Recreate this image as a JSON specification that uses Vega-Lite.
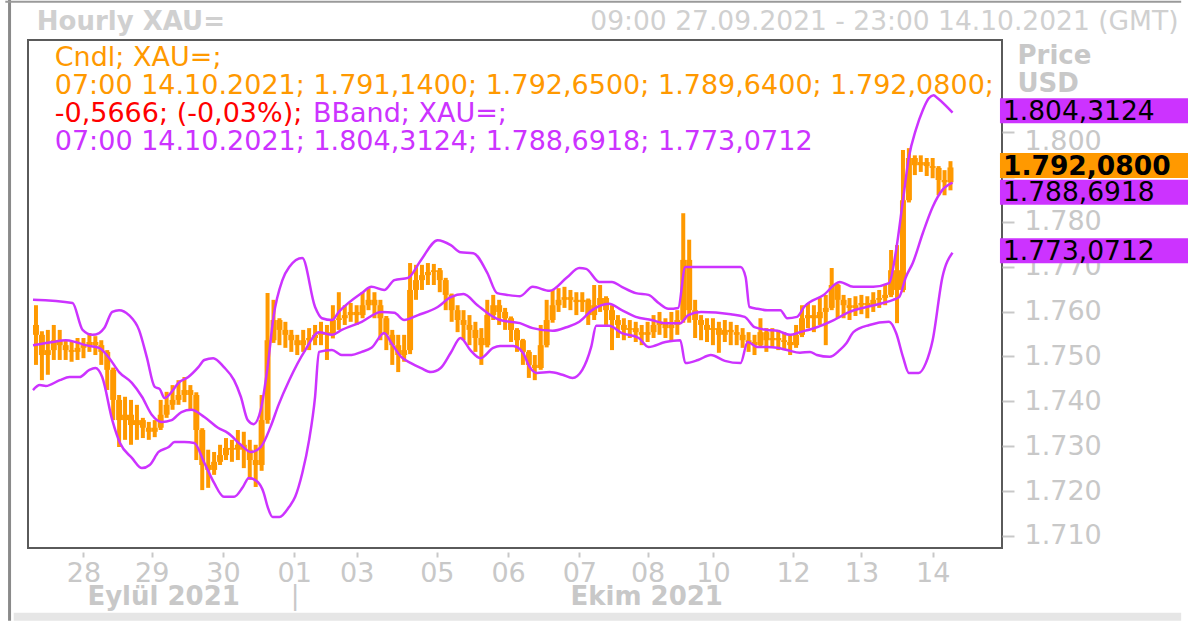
{
"$schema":"https://vega.github.io/schema/vega-lite/v6.json",
"width":974,"height":508,
"autosize":{"type":"none"},
"padding":{"left":28,"top":40,"right":186,"bottom":73},
"background":"white",
"config":{"font":"DejaVu Sans","view":{"stroke":"#5a5a5a","strokeWidth":2},"axis":{"grid":false,"domain":false}},
"datasets":{
"candles":[
{"t":1,"o":1757.0,"h":1761.4,"l":1748.1,"c":1754.8},{"t":3,"o":1754.8,"h":1755.6,"l":1744.7,"c":1750.3},{"t":5,"o":1750.3,"h":1755.9,"l":1745.9,"c":1751.4},{"t":7,"o":1751.4,"h":1757.0,"l":1749.2,"c":1753.6},{"t":9,"o":1753.6,"h":1755.9,"l":1749.2,"c":1752.5},{"t":11,"o":1752.5,"h":1753.6,"l":1749.2,"c":1751.4},{"t":13,"o":1751.4,"h":1753.2,"l":1748.8,"c":1751.0},{"t":15,"o":1751.0,"h":1754.1,"l":1749.2,"c":1751.9},{"t":17,"o":1751.9,"h":1754.1,"l":1749.6,"c":1752.5},{"t":19,"o":1752.5,"h":1755.2,"l":1751.0,"c":1753.2},
{"t":21,"o":1753.2,"h":1754.5,"l":1750.3,"c":1752.5},{"t":23,"o":1752.5,"h":1753.6,"l":1748.1,"c":1751.0},{"t":25,"o":1751.0,"h":1751.4,"l":1742.5,"c":1747.0},{"t":27,"o":1747.0,"h":1747.5,"l":1735.8,"c":1740.3},{"t":29,"o":1740.3,"h":1741.4,"l":1729.8,"c":1735.8},{"t":31,"o":1735.8,"h":1741.0,"l":1731.4,"c":1737.0},{"t":33,"o":1737.0,"h":1740.3,"l":1730.3,"c":1734.7},{"t":35,"o":1734.7,"h":1739.2,"l":1731.4,"c":1735.8},{"t":37,"o":1735.8,"h":1736.3,"l":1731.8,"c":1734.1},{"t":39,"o":1734.1,"h":1735.4,"l":1731.4,"c":1733.2},
{"t":41,"o":1733.2,"h":1735.8,"l":1732.0,"c":1734.1},{"t":43,"o":1734.1,"h":1740.3,"l":1733.6,"c":1737.0},{"t":45,"o":1737.0,"h":1742.1,"l":1736.3,"c":1739.2},{"t":47,"o":1739.2,"h":1743.6,"l":1738.1,"c":1740.3},{"t":49,"o":1740.3,"h":1744.7,"l":1739.2,"c":1741.4},{"t":51,"o":1741.4,"h":1745.4,"l":1739.8,"c":1742.5},{"t":53,"o":1742.5,"h":1743.6,"l":1738.1,"c":1741.4},{"t":55,"o":1741.4,"h":1742.0,"l":1726.9,"c":1733.6},{"t":57,"o":1733.6,"h":1734.0,"l":1720.2,"c":1725.8},{"t":59,"o":1725.8,"h":1729.2,"l":1720.7,"c":1724.7},
{"t":61,"o":1724.7,"h":1728.7,"l":1723.6,"c":1726.5},{"t":63,"o":1726.5,"h":1730.3,"l":1725.8,"c":1728.0},{"t":65,"o":1728.0,"h":1731.8,"l":1726.9,"c":1729.6},{"t":67,"o":1729.6,"h":1731.4,"l":1726.5,"c":1729.2},{"t":69,"o":1729.2,"h":1733.6,"l":1726.9,"c":1730.3},{"t":71,"o":1730.3,"h":1733.2,"l":1725.1,"c":1729.2},{"t":73,"o":1729.2,"h":1731.4,"l":1722.5,"c":1726.9},{"t":75,"o":1726.9,"h":1730.3,"l":1720.9,"c":1725.8},{"t":77,"o":1725.8,"h":1741.4,"l":1724.5,"c":1735.8},{"t":79,"o":1735.8,"h":1764.1,"l":1735.0,"c":1753.6},
{"t":81,"o":1753.6,"h":1762.6,"l":1753.0,"c":1758.1},{"t":83,"o":1758.1,"h":1758.5,"l":1752.5,"c":1755.9},{"t":85,"o":1755.9,"h":1757.7,"l":1751.9,"c":1754.8},{"t":87,"o":1754.8,"h":1755.9,"l":1751.0,"c":1753.6},{"t":89,"o":1753.6,"h":1754.8,"l":1750.3,"c":1752.5},{"t":91,"o":1752.5,"h":1755.9,"l":1751.0,"c":1753.6},{"t":93,"o":1753.6,"h":1756.3,"l":1751.4,"c":1754.1},{"t":95,"o":1754.1,"h":1757.0,"l":1752.5,"c":1754.8},{"t":97,"o":1754.8,"h":1757.7,"l":1752.5,"c":1755.4},{"t":99,"o":1755.4,"h":1757.0,"l":1749.2,"c":1754.8},
{"t":101,"o":1754.8,"h":1761.4,"l":1754.0,"c":1758.1},{"t":103,"o":1758.1,"h":1764.3,"l":1755.9,"c":1758.5},{"t":105,"o":1758.5,"h":1761.4,"l":1757.0,"c":1759.2},{"t":107,"o":1759.2,"h":1761.9,"l":1757.7,"c":1759.9},{"t":109,"o":1759.9,"h":1761.4,"l":1757.0,"c":1759.2},{"t":111,"o":1759.2,"h":1764.3,"l":1758.5,"c":1761.4},{"t":113,"o":1761.4,"h":1765.2,"l":1760.3,"c":1762.6},{"t":115,"o":1762.6,"h":1764.3,"l":1758.5,"c":1761.4},{"t":117,"o":1761.4,"h":1762.6,"l":1753.6,"c":1758.5},{"t":119,"o":1758.5,"h":1759.0,"l":1751.4,"c":1754.8},
{"t":121,"o":1754.8,"h":1755.9,"l":1748.1,"c":1752.5},{"t":123,"o":1752.5,"h":1754.8,"l":1746.5,"c":1750.3},{"t":125,"o":1750.3,"h":1754.8,"l":1748.8,"c":1751.4},{"t":127,"o":1751.4,"h":1770.8,"l":1750.5,"c":1764.8},{"t":129,"o":1764.8,"h":1770.4,"l":1762.6,"c":1767.0},{"t":131,"o":1767.0,"h":1770.4,"l":1764.8,"c":1768.1},{"t":133,"o":1768.1,"h":1770.8,"l":1765.9,"c":1768.8},{"t":135,"o":1768.8,"h":1770.6,"l":1765.9,"c":1769.2},{"t":137,"o":1769.2,"h":1769.7,"l":1764.3,"c":1767.0},{"t":139,"o":1767.0,"h":1767.5,"l":1760.3,"c":1763.7},
{"t":141,"o":1763.7,"h":1764.0,"l":1757.7,"c":1760.3},{"t":143,"o":1760.3,"h":1761.4,"l":1755.4,"c":1758.1},{"t":145,"o":1758.1,"h":1760.3,"l":1753.6,"c":1757.0},{"t":147,"o":1757.0,"h":1759.2,"l":1752.5,"c":1755.9},{"t":149,"o":1755.9,"h":1757.7,"l":1751.0,"c":1754.1},{"t":151,"o":1754.1,"h":1756.3,"l":1748.1,"c":1752.5},{"t":153,"o":1752.5,"h":1762.6,"l":1752.0,"c":1759.2},{"t":155,"o":1759.2,"h":1763.7,"l":1758.1,"c":1761.4},{"t":157,"o":1761.4,"h":1762.6,"l":1757.0,"c":1759.9},{"t":159,"o":1759.9,"h":1760.8,"l":1755.9,"c":1758.5},
{"t":161,"o":1758.5,"h":1758.9,"l":1753.2,"c":1755.9},{"t":163,"o":1755.9,"h":1756.3,"l":1751.0,"c":1753.6},{"t":165,"o":1753.6,"h":1753.9,"l":1748.1,"c":1751.0},{"t":167,"o":1751.0,"h":1751.4,"l":1745.2,"c":1748.1},{"t":169,"o":1748.1,"h":1750.3,"l":1744.7,"c":1747.4},{"t":171,"o":1747.4,"h":1757.0,"l":1747.0,"c":1752.5},{"t":173,"o":1752.5,"h":1762.6,"l":1752.0,"c":1758.1},{"t":175,"o":1758.1,"h":1764.8,"l":1757.5,"c":1761.4},{"t":177,"o":1761.4,"h":1765.2,"l":1759.9,"c":1762.6},{"t":179,"o":1762.6,"h":1765.5,"l":1760.8,"c":1763.2},
{"t":181,"o":1763.2,"h":1764.8,"l":1760.3,"c":1762.6},{"t":183,"o":1762.6,"h":1764.3,"l":1759.2,"c":1762.1},{"t":185,"o":1762.1,"h":1764.3,"l":1759.9,"c":1762.6},{"t":187,"o":1762.6,"h":1762.9,"l":1757.0,"c":1759.2},{"t":189,"o":1759.2,"h":1765.9,"l":1758.1,"c":1761.4},{"t":191,"o":1761.4,"h":1765.9,"l":1759.9,"c":1763.0},{"t":193,"o":1763.0,"h":1763.4,"l":1757.0,"c":1760.3},{"t":195,"o":1760.3,"h":1761.4,"l":1751.4,"c":1758.1},{"t":197,"o":1758.1,"h":1759.2,"l":1754.1,"c":1757.0},{"t":199,"o":1757.0,"h":1758.5,"l":1753.6,"c":1755.9},
{"t":201,"o":1755.9,"h":1758.1,"l":1754.1,"c":1756.3},{"t":203,"o":1756.3,"h":1757.7,"l":1753.2,"c":1755.4},{"t":205,"o":1755.4,"h":1757.0,"l":1752.5,"c":1754.8},{"t":207,"o":1754.8,"h":1757.7,"l":1753.2,"c":1755.4},{"t":209,"o":1755.4,"h":1759.2,"l":1754.1,"c":1757.0},{"t":211,"o":1757.0,"h":1759.9,"l":1754.8,"c":1757.7},{"t":213,"o":1757.7,"h":1758.5,"l":1754.1,"c":1756.3},{"t":215,"o":1756.3,"h":1759.9,"l":1753.6,"c":1757.0},{"t":217,"o":1757.0,"h":1760.3,"l":1754.8,"c":1758.1},{"t":219,"o":1758.1,"h":1781.9,"l":1757.5,"c":1771.5},
{"t":221,"o":1771.5,"h":1776.0,"l":1757.5,"c":1760.3},{"t":223,"o":1760.3,"h":1762.6,"l":1754.1,"c":1758.1},{"t":225,"o":1758.1,"h":1759.2,"l":1753.6,"c":1757.0},{"t":227,"o":1757.0,"h":1758.5,"l":1753.2,"c":1755.9},{"t":229,"o":1755.9,"h":1758.5,"l":1752.5,"c":1756.3},{"t":231,"o":1756.3,"h":1757.7,"l":1750.8,"c":1754.8},{"t":233,"o":1754.8,"h":1758.1,"l":1753.2,"c":1755.9},{"t":235,"o":1755.9,"h":1757.7,"l":1752.5,"c":1755.4},{"t":237,"o":1755.4,"h":1757.0,"l":1752.5,"c":1754.8},{"t":239,"o":1754.8,"h":1756.3,"l":1751.9,"c":1753.6},
{"t":241,"o":1753.6,"h":1755.4,"l":1751.0,"c":1753.2},{"t":243,"o":1753.2,"h":1754.8,"l":1750.3,"c":1752.5},{"t":245,"o":1752.5,"h":1758.5,"l":1752.0,"c":1755.4},{"t":247,"o":1755.4,"h":1756.3,"l":1751.0,"c":1753.6},{"t":249,"o":1753.6,"h":1756.3,"l":1751.9,"c":1754.1},{"t":251,"o":1754.1,"h":1755.9,"l":1751.4,"c":1753.6},{"t":253,"o":1753.6,"h":1755.4,"l":1751.4,"c":1753.2},{"t":255,"o":1753.2,"h":1754.8,"l":1750.3,"c":1752.5},{"t":257,"o":1752.5,"h":1757.0,"l":1751.9,"c":1754.8},{"t":259,"o":1754.8,"h":1761.4,"l":1754.3,"c":1758.5},
{"t":261,"o":1758.5,"h":1761.9,"l":1756.3,"c":1759.2},{"t":263,"o":1759.2,"h":1761.4,"l":1755.4,"c":1758.5},{"t":265,"o":1758.5,"h":1763.0,"l":1757.0,"c":1759.9},{"t":267,"o":1759.9,"h":1763.7,"l":1752.5,"c":1760.8},{"t":269,"o":1760.8,"h":1769.7,"l":1760.3,"c":1765.9},{"t":271,"o":1765.9,"h":1766.2,"l":1758.5,"c":1762.6},{"t":273,"o":1762.6,"h":1763.7,"l":1758.5,"c":1761.4},{"t":275,"o":1761.4,"h":1763.0,"l":1758.1,"c":1760.8},{"t":277,"o":1760.8,"h":1763.4,"l":1759.0,"c":1761.4},{"t":279,"o":1761.4,"h":1763.7,"l":1759.4,"c":1761.9},
{"t":281,"o":1761.9,"h":1763.4,"l":1758.5,"c":1761.4},{"t":283,"o":1761.4,"h":1764.3,"l":1759.9,"c":1762.6},{"t":285,"o":1762.6,"h":1764.8,"l":1760.8,"c":1763.0},{"t":287,"o":1763.0,"h":1765.9,"l":1761.4,"c":1763.7},{"t":289,"o":1763.7,"h":1773.7,"l":1763.2,"c":1769.2},{"t":291,"o":1769.2,"h":1774.8,"l":1757.4,"c":1764.8},{"t":293,"o":1764.8,"h":1796.0,"l":1764.3,"c":1784.8},{"t":295,"o":1784.8,"h":1796.4,"l":1784.3,"c":1794.2},{"t":297,"o":1794.2,"h":1794.8,"l":1790.4,"c":1792.6},{"t":299,"o":1792.6,"h":1794.8,"l":1791.1,"c":1793.3},
{"t":301,"o":1793.3,"h":1794.2,"l":1790.2,"c":1792.4},{"t":303,"o":1792.4,"h":1794.2,"l":1789.7,"c":1792.0},{"t":305,"o":1792.0,"h":1792.4,"l":1785.9,"c":1789.3},{"t":307,"o":1789.3,"h":1791.5,"l":1785.9,"c":1788.8},{"t":309,"o":1788.8,"h":1793.5,"l":1787.0,"c":1792.1}
],
"bands":[
{"s":"U","t":0,"v":1762.6},{"s":"U","t":13.3,"v":1761.9},{"s":"U","t":16.7,"v":1755.9},{"s":"U","t":20,"v":1754.8},{"s":"U","t":22.3,"v":1755.2},{"s":"U","t":24,"v":1756.3},{"s":"U","t":26.7,"v":1759.9},{"s":"U","t":29,"v":1760.3},{"s":"U","t":32.3,"v":1759.2},{"s":"U","t":35.7,"v":1755.9},{"s":"U","t":38.3,"v":1749.9},{"s":"U","t":41,"v":1743.2},{"s":"U","t":42.7,"v":1742.7},{"s":"U","t":44.3,"v":1740.7},{"s":"U","t":46.7,"v":1742.1},{"s":"U","t":49,"v":1744.1},{"s":"U","t":52.3,"v":1745.4},{"s":"U","t":55.7,"v":1747.6},{"s":"U","t":57.7,"v":1749.2},{"s":"U","t":60.7,"v":1749.6},{"s":"U","t":64.3,"v":1747.6},{"s":"U","t":67.7,"v":1744.7},{"s":"U","t":70,"v":1741.0},{"s":"U","t":72.3,"v":1735.8},{"s":"U","t":74.3,"v":1734.9},{"s":"U","t":76.7,"v":1738.1},{"s":"U","t":79,"v":1747.6},{"s":"U","t":81,"v":1758.8},{"s":"U","t":84,"v":1767.0},{"s":"U","t":86.3,"v":1769.9},{"s":"U","t":90.7,"v":1771.9},{"s":"U","t":95,"v":1761.0},{"s":"U","t":97.3,"v":1758.5},{"s":"U","t":100.7,"v":1758.1},{"s":"U","t":103,"v":1759.9},{"s":"U","t":110.7,"v":1764.1},{"s":"U","t":114,"v":1765.5},{"s":"U","t":118.3,"v":1764.8},{"s":"U","t":121.7,"v":1767.0},{"s":"U","t":126.3,"v":1767.5},{"s":"U","t":130.7,"v":1771.5},{"s":"U","t":136.3,"v":1775.9},{"s":"U","t":140.7,"v":1774.8},{"s":"U","t":144,"v":1773.2},{"s":"U","t":148.3,"v":1773.0},{"s":"U","t":153,"v":1768.6},{"s":"U","t":156.3,"v":1764.1},{"s":"U","t":159.7,"v":1763.7},{"s":"U","t":164,"v":1763.4},{"s":"U","t":168.3,"v":1765.5},{"s":"U","t":174,"v":1764.6},{"s":"U","t":179.7,"v":1767.5},{"s":"U","t":184,"v":1769.7},{"s":"U","t":186.3,"v":1769.5},{"s":"U","t":190.7,"v":1766.6},{"s":"U","t":195,"v":1766.6},{"s":"U","t":198.3,"v":1765.5},{"s":"U","t":203,"v":1764.1},{"s":"U","t":207.3,"v":1763.7},{"s":"U","t":210.7,"v":1761.9},{"s":"U","t":214,"v":1760.6},{"s":"U","t":217.3,"v":1760.8},{"s":"U","t":219.7,"v":1769.9},{"s":"U","t":238.3,"v":1769.9},{"s":"U","t":240,"v":1767.7},{"s":"U","t":241.3,"v":1761.0},{"s":"U","t":244,"v":1760.6},{"s":"U","t":247.3,"v":1760.3},{"s":"U","t":251.7,"v":1760.3},{"s":"U","t":254,"v":1758.5},{"s":"U","t":257.3,"v":1758.8},{"s":"U","t":259.7,"v":1761.0},{"s":"U","t":266.3,"v":1763.7},{"s":"U","t":271.7,"v":1766.6},{"s":"U","t":276.3,"v":1765.5},{"s":"U","t":283,"v":1765.5},{"s":"U","t":288.3,"v":1766.3},{"s":"U","t":290.7,"v":1773.7},{"s":"U","t":293,"v":1784.8},{"s":"U","t":295,"v":1794.4},{"s":"U","t":297.3,"v":1800.4},{"s":"U","t":299.7,"v":1804.9},{"s":"U","t":301.7,"v":1807.5},{"s":"U","t":303.3,"v":1808.2},{"s":"U","t":304.7,"v":1807.5},{"s":"U","t":309.7,"v":1804.3},
{"s":"M","t":0,"v":1752.5},{"s":"M","t":6.7,"v":1753.2},{"s":"M","t":11,"v":1753.6},{"s":"M","t":14.3,"v":1753.2},{"s":"M","t":17.7,"v":1752.5},{"s":"M","t":22.3,"v":1751.9},{"s":"M","t":25.7,"v":1749.6},{"s":"M","t":29,"v":1746.5},{"s":"M","t":33.3,"v":1744.1},{"s":"M","t":36.7,"v":1741.0},{"s":"M","t":40,"v":1737.0},{"s":"M","t":43.3,"v":1735.4},{"s":"M","t":46.7,"v":1735.8},{"s":"M","t":50,"v":1737.6},{"s":"M","t":53.3,"v":1738.1},{"s":"M","t":57.7,"v":1736.5},{"s":"M","t":62.3,"v":1734.1},{"s":"M","t":65.7,"v":1732.9},{"s":"M","t":70,"v":1730.3},{"s":"M","t":73.3,"v":1728.7},{"s":"M","t":76.7,"v":1729.8},{"s":"M","t":80,"v":1734.3},{"s":"M","t":82.7,"v":1739.2},{"s":"M","t":86.3,"v":1744.7},{"s":"M","t":91.7,"v":1751.4},{"s":"M","t":96.3,"v":1755.4},{"s":"M","t":100.7,"v":1754.8},{"s":"M","t":104,"v":1755.9},{"s":"M","t":110.7,"v":1757.7},{"s":"M","t":117.3,"v":1759.9},{"s":"M","t":121.7,"v":1759.7},{"s":"M","t":125,"v":1758.1},{"s":"M","t":129.7,"v":1759.2},{"s":"M","t":136.3,"v":1761.0},{"s":"M","t":140.7,"v":1763.2},{"s":"M","t":145,"v":1763.9},{"s":"M","t":149.7,"v":1761.4},{"s":"M","t":155,"v":1758.8},{"s":"M","t":157.3,"v":1758.1},{"s":"M","t":164,"v":1757.4},{"s":"M","t":168.3,"v":1756.3},{"s":"M","t":175,"v":1755.7},{"s":"M","t":179.7,"v":1756.5},{"s":"M","t":184,"v":1757.7},{"s":"M","t":188.3,"v":1760.3},{"s":"M","t":194,"v":1761.7},{"s":"M","t":198.3,"v":1760.3},{"s":"M","t":203,"v":1758.8},{"s":"M","t":208.3,"v":1758.1},{"s":"M","t":213,"v":1757.4},{"s":"M","t":218,"v":1757.4},{"s":"M","t":220.7,"v":1759.2},{"s":"M","t":225,"v":1759.9},{"s":"M","t":235,"v":1759.4},{"s":"M","t":239.7,"v":1758.8},{"s":"M","t":243,"v":1756.5},{"s":"M","t":247.3,"v":1755.9},{"s":"M","t":250.7,"v":1755.7},{"s":"M","t":255,"v":1754.8},{"s":"M","t":258.3,"v":1755.4},{"s":"M","t":264,"v":1756.5},{"s":"M","t":269.7,"v":1758.1},{"s":"M","t":275,"v":1759.9},{"s":"M","t":280.7,"v":1761.0},{"s":"M","t":286.3,"v":1761.9},{"s":"M","t":289.7,"v":1762.6},{"s":"M","t":291.7,"v":1763.2},{"s":"M","t":294,"v":1767.7},{"s":"M","t":296.3,"v":1770.8},{"s":"M","t":299.7,"v":1777.5},{"s":"M","t":303,"v":1783.3},{"s":"M","t":306.3,"v":1787.1},{"s":"M","t":309.7,"v":1788.7},
{"s":"L","t":0,"v":1742.5},{"s":"L","t":2.3,"v":1743.6},{"s":"L","t":4.3,"v":1743.4},{"s":"L","t":9,"v":1744.7},{"s":"L","t":12.3,"v":1745.4},{"s":"L","t":15.7,"v":1745.4},{"s":"L","t":19,"v":1747.0},{"s":"L","t":21,"v":1747.4},{"s":"L","t":23.3,"v":1745.4},{"s":"L","t":26.7,"v":1735.8},{"s":"L","t":29.3,"v":1730.7},{"s":"L","t":33.3,"v":1727.4},{"s":"L","t":36.7,"v":1725.1},{"s":"L","t":39.3,"v":1725.8},{"s":"L","t":42.3,"v":1728.7},{"s":"L","t":45.7,"v":1729.8},{"s":"L","t":47.7,"v":1730.9},{"s":"L","t":51,"v":1730.9},{"s":"L","t":54.3,"v":1730.7},{"s":"L","t":57.7,"v":1726.3},{"s":"L","t":61,"v":1721.8},{"s":"L","t":64.3,"v":1718.7},{"s":"L","t":67.7,"v":1718.7},{"s":"L","t":70.7,"v":1720.9},{"s":"L","t":72.7,"v":1722.9},{"s":"L","t":75.7,"v":1722.0},{"s":"L","t":77.7,"v":1719.6},{"s":"L","t":79,"v":1716.5},{"s":"L","t":80.7,"v":1714.2},{"s":"L","t":83,"v":1714.2},{"s":"L","t":86.3,"v":1716.5},{"s":"L","t":88.3,"v":1718.7},{"s":"L","t":90.7,"v":1724.0},{"s":"L","t":93,"v":1731.4},{"s":"L","t":95,"v":1741.0},{"s":"L","t":96.3,"v":1751.0},{"s":"L","t":100.7,"v":1751.4},{"s":"L","t":104,"v":1750.3},{"s":"L","t":107.3,"v":1750.3},{"s":"L","t":110.7,"v":1751.0},{"s":"L","t":114,"v":1751.9},{"s":"L","t":118.3,"v":1755.2},{"s":"L","t":120.7,"v":1753.0},{"s":"L","t":124,"v":1749.9},{"s":"L","t":127.3,"v":1748.5},{"s":"L","t":130.7,"v":1747.4},{"s":"L","t":134,"v":1746.5},{"s":"L","t":137.3,"v":1747.4},{"s":"L","t":140.7,"v":1750.8},{"s":"L","t":144,"v":1754.1},{"s":"L","t":147.3,"v":1751.4},{"s":"L","t":150.7,"v":1749.6},{"s":"L","t":155,"v":1751.9},{"s":"L","t":157.3,"v":1752.3},{"s":"L","t":161.7,"v":1752.3},{"s":"L","t":165,"v":1750.8},{"s":"L","t":167.3,"v":1747.6},{"s":"L","t":169.7,"v":1746.3},{"s":"L","t":174,"v":1746.5},{"s":"L","t":178.3,"v":1745.9},{"s":"L","t":181.7,"v":1745.2},{"s":"L","t":185,"v":1747.0},{"s":"L","t":188,"v":1752.1},{"s":"L","t":189.7,"v":1756.8},{"s":"L","t":194,"v":1756.8},{"s":"L","t":198.3,"v":1755.2},{"s":"L","t":204,"v":1754.1},{"s":"L","t":207.3,"v":1752.1},{"s":"L","t":213,"v":1753.2},{"s":"L","t":218,"v":1753.6},{"s":"L","t":219.7,"v":1748.5},{"s":"L","t":224,"v":1749.2},{"s":"L","t":228.3,"v":1750.3},{"s":"L","t":233,"v":1749.0},{"s":"L","t":238.3,"v":1748.5},{"s":"L","t":240.7,"v":1753.2},{"s":"L","t":244,"v":1752.1},{"s":"L","t":247.3,"v":1752.1},{"s":"L","t":250.7,"v":1751.9},{"s":"L","t":254,"v":1751.4},{"s":"L","t":258.3,"v":1750.8},{"s":"L","t":261.7,"v":1751.0},{"s":"L","t":264,"v":1750.3},{"s":"L","t":268.3,"v":1749.9},{"s":"L","t":271.7,"v":1751.4},{"s":"L","t":274,"v":1753.0},{"s":"L","t":276.3,"v":1755.4},{"s":"L","t":281.7,"v":1757.0},{"s":"L","t":288.3,"v":1757.7},{"s":"L","t":290.7,"v":1755.2},{"s":"L","t":293,"v":1749.9},{"s":"L","t":295,"v":1746.3},{"s":"L","t":298.3,"v":1746.3},{"s":"L","t":300.7,"v":1748.5},{"s":"L","t":303,"v":1753.6},{"s":"L","t":306.3,"v":1767.7},{"s":"L","t":309.7,"v":1773.1}
],
"one":[{}]
},
"layer":[
{"data":{"name":"candles"},"mark":{"type":"rule","color":"#FF9900","strokeWidth":4},
 "encoding":{
  "x":{"field":"t","type":"quantitative","scale":{"domain":[0,324.67],"nice":false,"zero":false},
   "axis":{"orient":"bottom","title":null,"values":[17,40,64,88,109,136,160,184,207,229,256,279,303],
    "labelExpr":"datum.value==17?'28':datum.value==40?'29':datum.value==64?'30':datum.value==88?'01':datum.value==109?'03':datum.value==136?'05':datum.value==160?'06':datum.value==184?'07':datum.value==207?'08':datum.value==229?'10':datum.value==256?'12':datum.value==279?'13':'14'",
    "labelColor":"#c8c8c8","labelFontSize":27,"labelFont":"DejaVu Sans","offset":4,"tickSize":5,"tickWidth":2,"tickColor":"#c8c8c8","labelPadding":3,"labelFlush":false,"labelOverlap":false,"domain":false,"grid":false}},
  "y":{"field":"l","type":"quantitative","scale":{"domain":[1707.3,1820.5],"nice":false,"zero":false},
   "axis":{"orient":"right","values":[1710,1720,1730,1740,1750,1760,1770,1780,1790,1800],
    "labelExpr":"datum.value == 1790 ? '' : replace(format(datum.value, ','), ',', '.')",
    "labelColor":"#c8c8c8","labelFontSize":27,"labelFont":"DejaVu Sans","tickSize":12,"tickWidth":2,"tickColor":"#c8c8c8","labelPadding":10,
    "labelOffset":{"condition":{"test":"datum.value == 1800","value":10},"value":0},
    "labelOverlap":false,"labelFlush":false,"domain":false,"grid":false,
    "title":["Price","USD"],"titleAngle":0,"titleAlign":"left","titleBaseline":"alphabetic","titleX":15,"titleY":23,"titleLineHeight":28,"titleColor":"#c8c8c8","titleFontWeight":"bold","titleFontSize":26,"titleFont":"DejaVu Sans"}},
  "y2":{"field":"h"}}},
{"data":{"name":"candles"},"mark":{"type":"bar","color":"#FF9900","width":6},
 "encoding":{
  "x":{"field":"t","type":"quantitative","scale":{"domain":[0,324.67],"nice":false,"zero":false}},
  "y":{"field":"o","type":"quantitative","scale":{"domain":[1707.3,1820.5],"nice":false,"zero":false}},
  "y2":{"field":"c"}}},
{"data":{"name":"bands"},"mark":{"type":"line","color":"#CC33FF","strokeWidth":2.5,"interpolate":"monotone"},
 "encoding":{
  "x":{"field":"t","type":"quantitative","scale":{"domain":[0,324.67],"nice":false,"zero":false}},
  "y":{"field":"v","type":"quantitative","scale":{"domain":[1707.3,1820.5],"nice":false,"zero":false}},
  "detail":{"field":"s"}}},
{"data":{"values":[{"v":1804.3124,"lab":"1.804,3124"},{"v":1773.0712,"lab":"1.773,0712"}]},
 "layer":[
  {"mark":{"type":"rect","color":"#CC33FF","height":25,"yOffset":-2},
   "encoding":{"x":{"datum":325.67,"type":"quantitative","scale":{"domain":[0,324.67],"nice":false,"zero":false}},"x2":{"datum":400},
    "y":{"field":"v","type":"quantitative","scale":{"domain":[1707.3,1820.5],"nice":false,"zero":false}}}},
  {"mark":{"type":"text","color":"black","align":"left","baseline":"middle","fontSize":26.5,"yOffset":-1},
   "encoding":{"x":{"datum":326.67,"type":"quantitative","scale":{"domain":[0,324.67],"nice":false,"zero":false}},
    "y":{"field":"v","type":"quantitative","scale":{"domain":[1707.3,1820.5],"nice":false,"zero":false}},"text":{"field":"lab"}}}
 ]},
{"data":{"values":[{"v":1792.08,"lab":"1.792,0800"}]},
 "layer":[
  {"mark":{"type":"rect","color":"#FF9900","height":25,"yOffset":-2},
   "encoding":{"x":{"datum":325.67,"type":"quantitative","scale":{"domain":[0,324.67],"nice":false,"zero":false}},"x2":{"datum":400},
    "y":{"field":"v","type":"quantitative","scale":{"domain":[1707.3,1820.5],"nice":false,"zero":false}}}},
  {"mark":{"type":"text","color":"black","align":"left","baseline":"middle","fontSize":26.5,"fontWeight":"bold","yOffset":-1},
   "encoding":{"x":{"datum":326.67,"type":"quantitative","scale":{"domain":[0,324.67],"nice":false,"zero":false}},
    "y":{"field":"v","type":"quantitative","scale":{"domain":[1707.3,1820.5],"nice":false,"zero":false}},"text":{"field":"lab"}}}
 ]},
{"data":{"values":[{"v":1788.6918,"lab":"1.788,6918"}]},
 "layer":[
  {"mark":{"type":"rect","color":"#CC33FF","height":25,"yOffset":9.5},
   "encoding":{"x":{"datum":325.67,"type":"quantitative","scale":{"domain":[0,324.67],"nice":false,"zero":false}},"x2":{"datum":400},
    "y":{"field":"v","type":"quantitative","scale":{"domain":[1707.3,1820.5],"nice":false,"zero":false}}}},
  {"mark":{"type":"text","color":"black","align":"left","baseline":"middle","fontSize":26.5,"yOffset":10.5},
   "encoding":{"x":{"datum":326.67,"type":"quantitative","scale":{"domain":[0,324.67],"nice":false,"zero":false}},
    "y":{"field":"v","type":"quantitative","scale":{"domain":[1707.3,1820.5],"nice":false,"zero":false}},"text":{"field":"lab"}}}
 ]},
{"data":{"name":"one"},"mark":{"type":"text","text":"Cndl; XAU=;","color":"#FF9900","align":"left","baseline":"middle","fontSize":27},
 "encoding":{"x":{"datum":7.33,"type":"quantitative","scale":{"domain":[0,324.67],"nice":false,"zero":false}},"y":{"datum":1816.45,"type":"quantitative","scale":{"domain":[1707.3,1820.5],"nice":false,"zero":false}}}},
{"data":{"name":"one"},"mark":{"type":"text","text":"07:00 14.10.2021; 1.791,1400; 1.792,6500; 1.789,6400; 1.792,0800;","color":"#FF9900","align":"left","baseline":"middle","fontSize":27},
 "encoding":{"x":{"datum":7.33,"type":"quantitative","scale":{"domain":[0,324.67],"nice":false,"zero":false}},"y":{"datum":1810.2,"type":"quantitative","scale":{"domain":[1707.3,1820.5],"nice":false,"zero":false}}}},
{"data":{"name":"one"},"mark":{"type":"text","text":"-0,5666; (-0,03%);","color":"#FF0000","align":"left","baseline":"middle","fontSize":27},
 "encoding":{"x":{"datum":7.33,"type":"quantitative","scale":{"domain":[0,324.67],"nice":false,"zero":false}},"y":{"datum":1804.0,"type":"quantitative","scale":{"domain":[1707.3,1820.5],"nice":false,"zero":false}}}},
{"data":{"name":"one"},"mark":{"type":"text","text":"BBand; XAU=;","color":"#CC33FF","align":"left","baseline":"middle","fontSize":27},
 "encoding":{"x":{"datum":94.3,"type":"quantitative","scale":{"domain":[0,324.67],"nice":false,"zero":false}},"y":{"datum":1804.0,"type":"quantitative","scale":{"domain":[1707.3,1820.5],"nice":false,"zero":false}}}},
{"data":{"name":"one"},"mark":{"type":"text","text":"07:00 14.10.2021; 1.804,3124; 1.788,6918; 1.773,0712","color":"#CC33FF","align":"left","baseline":"middle","fontSize":27},
 "encoding":{"x":{"datum":7.33,"type":"quantitative","scale":{"domain":[0,324.67],"nice":false,"zero":false}},"y":{"datum":1797.7,"type":"quantitative","scale":{"domain":[1707.3,1820.5],"nice":false,"zero":false}}}},
{"data":{"name":"one"},"mark":{"type":"text","text":"Hourly XAU=","color":"#d0d0d0","align":"left","baseline":"middle","fontSize":26,"fontWeight":"bold"},
 "encoding":{"x":{"datum":1.3,"type":"quantitative","scale":{"domain":[0,324.67],"nice":false,"zero":false}},"y":{"datum":1824.5,"type":"quantitative","scale":{"domain":[1707.3,1820.5],"nice":false,"zero":false}}}},
{"data":{"name":"one"},"mark":{"type":"text","text":"09:00 27.09.2021 - 23:00 14.10.2021 (GMT)","color":"#d0d0d0","align":"right","baseline":"middle","fontSize":26.5},
 "encoding":{"x":{"datum":385.8,"type":"quantitative","scale":{"domain":[0,324.67],"nice":false,"zero":false}},"y":{"datum":1824.5,"type":"quantitative","scale":{"domain":[1707.3,1820.5],"nice":false,"zero":false}}}},
{"data":{"name":"one"},"mark":{"type":"text","text":"Eylül 2021","color":"#c8c8c8","align":"center","baseline":"middle","fontSize":26,"fontWeight":"bold"},
 "encoding":{"x":{"datum":44,"type":"quantitative","scale":{"domain":[0,324.67],"nice":false,"zero":false}},"y":{"datum":1696.4,"type":"quantitative","scale":{"domain":[1707.3,1820.5],"nice":false,"zero":false}}}},
{"data":{"name":"one"},"mark":{"type":"text","text":"Ekim 2021","color":"#c8c8c8","align":"center","baseline":"middle","fontSize":26,"fontWeight":"bold"},
 "encoding":{"x":{"datum":206.7,"type":"quantitative","scale":{"domain":[0,324.67],"nice":false,"zero":false}},"y":{"datum":1696.4,"type":"quantitative","scale":{"domain":[1707.3,1820.5],"nice":false,"zero":false}}}},
{"data":{"name":"one"},"mark":{"type":"text","text":"|","color":"#c8c8c8","align":"center","baseline":"middle","fontSize":26},
 "encoding":{"x":{"datum":88.3,"type":"quantitative","scale":{"domain":[0,324.67],"nice":false,"zero":false}},"y":{"datum":1696.7,"type":"quantitative","scale":{"domain":[1707.3,1820.5],"nice":false,"zero":false}}}},
{"data":{"name":"one"},"mark":{"type":"rule","color":"#8a8a8a","strokeWidth":3},
 "encoding":{"x":{"datum":-7.9,"type":"quantitative","scale":{"domain":[0,324.67],"nice":false,"zero":false}},"y":{"datum":1829.4,"type":"quantitative","scale":{"domain":[1707.3,1820.5],"nice":false,"zero":false}},"y2":{"datum":1691.1}}},
{"data":{"name":"one"},"mark":{"type":"rule","color":"#9a9a9a","strokeWidth":2},
 "encoding":{"x":{"datum":-9.33,"type":"quantitative","scale":{"domain":[0,324.67],"nice":false,"zero":false}},"x2":{"datum":386.7},"y":{"datum":1829.0,"type":"quantitative","scale":{"domain":[1707.3,1820.5],"nice":false,"zero":false}}}},
{"data":{"name":"one"},"mark":{"type":"rule","color":"#e6e6e6","strokeWidth":8},
 "encoding":{"x":{"datum":-6.5,"type":"quantitative","scale":{"domain":[0,324.67],"nice":false,"zero":false}},"x2":{"datum":386.7},"y":{"datum":1691.96,"type":"quantitative","scale":{"domain":[1707.3,1820.5],"nice":false,"zero":false}}}}
]
}
